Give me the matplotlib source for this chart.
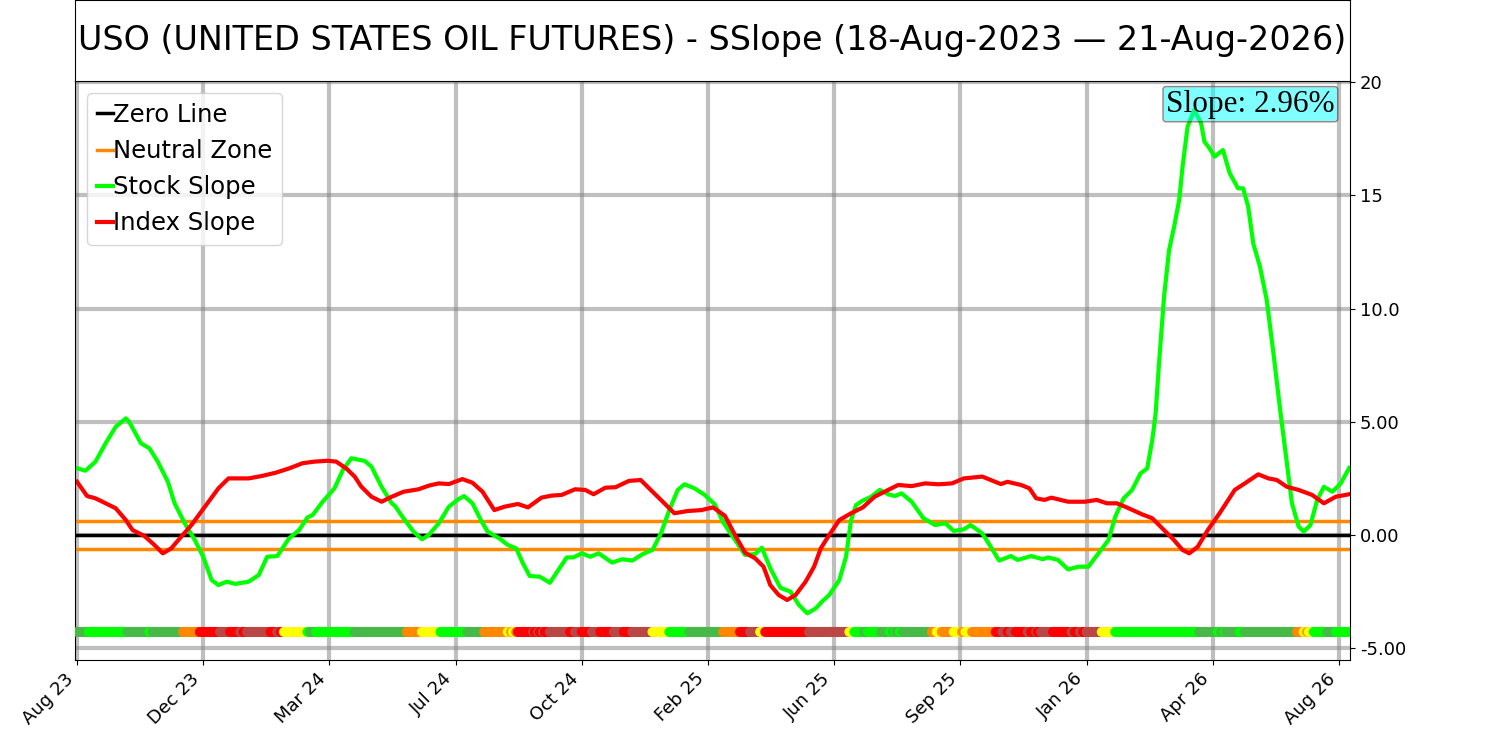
import numpy as np
import matplotlib
matplotlib.use('Agg')
import matplotlib.pyplot as plt

# ---------------- data ----------------
title_text = "USO (UNITED STATES OIL FUTURES) - SSlope (18-Aug-2023 \u2014 21-Aug-2026)"
x_tick_labels = ["Aug 23", "Dec 23", "Mar 24", "Jul 24", "Oct 24", "Feb 25",
                 "Jun 25", "Sep 25", "Jan 26", "Apr 26", "Aug 26"]
tick_step = 75
n_points = 757
y_ticks = [20, 15, 10, 5, 0, -5]
y_tick_labels = ["20", "15", "10.0", "5.00", "0.00", "-5.00"]
neutral_band = 0.63
dot_level = -4.28
slope_label = "Slope: 2.96%"

stock_idx = [0, 5, 11, 17, 23, 29, 31, 38, 43, 48,
             54, 58, 64, 70, 75, 80, 84, 89, 94, 102,
             108, 113, 119, 126, 132, 137, 140, 146, 153, 158,
             163, 171, 175, 181, 187, 189, 194, 200, 205, 209,
             215, 221, 226, 230, 235, 240, 244, 251, 256, 261,
             265, 269, 275, 281, 286, 291, 295, 300, 305, 310,
             318, 324, 330, 336, 342, 347, 352, 357, 361, 367,
             373, 379, 384, 391, 397, 403, 407, 412, 418, 424,
             429, 434, 439, 443, 447, 453, 457, 460, 463, 467,
             472, 477, 482, 486, 490, 496, 503, 510, 516, 521,
             527, 531, 538, 543, 548, 555, 559, 567, 574, 577,
             583, 589, 595, 601, 607, 613, 617, 622, 627, 632,
             636, 639, 641, 643, 646, 649, 652, 655, 657, 660,
             664, 668, 670, 673, 676, 681, 685, 690, 693, 696,
             699, 703, 707, 711, 715, 719, 722, 726, 729, 733,
             737, 741, 746, 751, 756]
stock_val = [2.95, 2.84, 3.24, 4.05, 4.78, 5.15, 5.0, 4.05, 3.83, 3.24,
             2.35, 1.40, 0.52, -0.22, -0.96, -1.99, -2.21, -2.06, -2.16, -2.06,
             -1.77, -0.96, -0.93, -0.15, 0.22, 0.78, 0.88, 1.47, 2.06, 2.87,
             3.39, 3.27, 3.02, 2.13, 1.40, 1.28, 0.74, 0.15, -0.19, 0.0,
             0.52, 1.25, 1.55, 1.72, 1.40, 0.66, 0.15, -0.15, -0.44, -0.59,
             -1.25, -1.81, -1.84, -2.11, -1.55, -0.99, -0.99, -0.81, -0.96, -0.81,
             -1.22, -1.07, -1.13, -0.85, -0.66, 0.07, 1.10, 1.99, 2.24, 2.06,
             1.77, 1.36, 0.56, -0.22, -0.88, -0.84, -0.56, -1.47, -2.33, -2.50,
             -3.09, -3.46, -3.24, -2.92, -2.65, -1.99, -0.96, 0.66, 1.33, 1.52,
             1.69, 1.99, 1.80, 1.72, 1.84, 1.47, 0.74, 0.44, 0.52, 0.18,
             0.25, 0.44, 0.07, -0.52, -1.13, -0.93, -1.10, -0.93, -1.07, -0.99,
             -1.10, -1.52, -1.40, -1.40, -0.81, -0.22, 0.81, 1.62, 1.99, 2.72,
             2.94, 4.20, 5.37, 7.58, 10.53, 12.59, 13.62, 14.80, 16.27, 18.04,
             18.77, 18.19, 17.37, 17.08, 16.71, 17.0, 15.98, 15.31, 15.31, 14.50,
             12.88, 11.85, 10.38, 8.03, 5.52, 3.17, 1.40, 0.37, 0.15, 0.44,
             1.55, 2.13, 1.91, 2.28, 2.96]

index_idx = [0, 6, 11, 17, 23, 29, 33, 40, 46, 51,
             56, 62, 68, 76, 84, 90, 102, 110, 118, 126,
             134, 141, 149, 154, 160, 165, 169, 175, 181, 187,
             194, 203, 209, 215, 221, 229, 235, 241, 248, 254,
             262, 268, 276, 282, 288, 296, 302, 307, 314, 320,
             328, 335, 340, 347, 355, 363, 371, 378, 385, 391,
             397, 403, 408, 412, 417, 422, 427, 433, 438, 442,
             447, 453, 460, 467, 474, 482, 488, 496, 504, 512,
             520, 527, 538, 544, 549, 553, 561, 566, 570, 575,
             579, 589, 599, 606, 612, 618, 625, 633, 639, 645,
             651, 657, 661, 666, 672, 679, 688, 694, 702, 708,
             713, 719, 726, 734, 741, 748, 756]
index_val = [2.35, 1.72, 1.62, 1.40, 1.18, 0.66, 0.22, -0.04, -0.44, -0.81,
             -0.59, -0.07, 0.44, 1.25, 2.06, 2.50, 2.50, 2.61, 2.75, 2.94,
             3.17, 3.24, 3.28, 3.24, 2.94, 2.58, 2.13, 1.69, 1.47, 1.69,
             1.91, 2.02, 2.18, 2.28, 2.25, 2.47, 2.31, 1.91, 1.10, 1.25,
             1.37, 1.22, 1.65, 1.74, 1.77, 2.02, 1.99, 1.80, 2.09, 2.11,
             2.39, 2.43, 2.06, 1.55, 0.96, 1.06, 1.10, 1.22, 0.85, 0.0,
             -0.78, -1.03, -1.40, -2.21, -2.65, -2.87, -2.65, -2.06, -1.40, -0.59,
             0.0, 0.66, 0.96, 1.22, 1.69, 1.99, 2.21, 2.16, 2.28, 2.24,
             2.28, 2.50, 2.58, 2.40, 2.25, 2.35, 2.21, 2.06, 1.62, 1.55,
             1.65, 1.47, 1.47, 1.55, 1.40, 1.40, 1.18, 0.91, 0.74, 0.29,
             -0.15, -0.66, -0.81, -0.52, 0.22, 0.96, 1.99, 2.28, 2.68, 2.50,
             2.43, 2.13, 1.99, 1.77, 1.40, 1.69, 1.80]

# signal-strip runs: start index and category of each run
dot_starts = [0, 7, 30, 43, 45, 63, 73, 85, 91, 97, 99, 101, 115, 119, 121, 123,
              137, 139, 142, 165, 196, 205, 216, 232, 242, 256, 258, 259, 261, 262,
              271, 272, 274, 275, 277, 278, 281, 293, 296, 300, 306, 311, 319, 325,
              330, 342, 352, 364, 384, 394, 400, 406, 409, 435, 459, 462, 468, 470,
              478, 483, 485, 486, 487, 489, 491, 508, 511, 514, 521, 526, 528, 532,
              546, 550, 553, 555, 558, 565, 567, 570, 571, 573, 580, 591, 593, 596,
              598, 600, 609, 617, 667, 678, 680, 682, 683, 691, 694, 725, 729, 731,
              732, 735, 743, 748]
dot_cats = ["g", "G", "g", "G", "g", "O", "R", "B", "R", "B", "R", "B", "R", "B", "R", "Y",
            "G", "g", "G", "g", "O", "Y", "G", "g", "O", "Y", "O", "Y", "O", "R",
            "B", "R", "B", "R", "B", "R", "B", "R", "B", "R", "B", "R", "B", "R",
            "B", "Y", "G", "g", "O", "R", "B", "Y", "R", "B", "Y", "G", "g", "G",
            "g", "G", "g", "G", "g", "G", "g", "O", "Y", "O", "Y", "O", "Y", "O",
            "R", "B", "R", "B", "R", "B", "R", "B", "R", "B", "R", "B", "R", "B",
            "R", "B", "Y", "G", "g", "G", "g", "G", "g", "G", "g", "O", "Y", "O",
            "Y", "G", "g", "G"]
cat_colors = {"G": "#00ff00", "g": "#46b946", "O": "#ff8800",
              "Y": "#ffff00", "R": "#ff0000", "B": "#bb4646"}

# ---------------- figure ----------------
fig = plt.figure(figsize=(15, 7.41), dpi=100)
ax = fig.add_axes([0.05, 0.1093, 0.85, 0.7814])
tax = fig.add_axes([0.05, 0.8907, 0.85, 0.1093])

ax.set_axisbelow(True)
ax.grid(True, color='gray', alpha=0.5, linewidth=3)

ax.axhline(0, color='black', lw=2.5, label='Zero Line')
ax.axhline(neutral_band, color='#ff8800', lw=2.5, label='Neutral Zone')
ax.axhline(-neutral_band, color='#ff8800', lw=2.5)
ax.plot(stock_idx, stock_val, color='#00ff00', lw=3, label='Stock Slope')
ax.plot(index_idx, index_val, color='#ff0000', lw=3, label='Index Slope')

# expand runs into one colour per point
ends = dot_starts[1:] + [n_points]
point_cats = []
for s, e, c in zip(dot_starts, ends, dot_cats):
    point_cats += [c] * (e - s)
point_colors = [cat_colors[c] for c in point_cats]
ax.scatter(np.arange(n_points), [dot_level] * n_points, c=point_colors,
           s=52, linewidths=0, zorder=3)

ax.set_xlim(-1.2, 756.5)
ax.set_ylim(-5.52, 20.05)
ax.yaxis.tick_right()
ax.set_yticks(y_ticks)
ax.set_yticklabels(y_tick_labels, fontsize=13)
ax.set_xticks(np.arange(len(x_tick_labels)) * tick_step)
ax.set_xticklabels(x_tick_labels, rotation=45, ha='right', fontsize=13)

ax.text(0.988, 0.985, slope_label, transform=ax.transAxes, ha='right', va='top',
        fontsize=22.5, family=['Liberation Serif', 'DejaVu Serif'], zorder=6,
        bbox=dict(boxstyle='round,pad=0.1', facecolor='cyan',
                  edgecolor='darkred', alpha=0.5))

ax.legend(loc='upper left', fontsize=17.5, handlelength=0.65, handletextpad=0.02)

tax.set_xticks([])
tax.set_yticks([])
tax.text(0.5, 0.5, title_text, ha='center', va='center', fontsize=24,
         transform=tax.transAxes)

fig.savefig('out.png', dpi=100)
